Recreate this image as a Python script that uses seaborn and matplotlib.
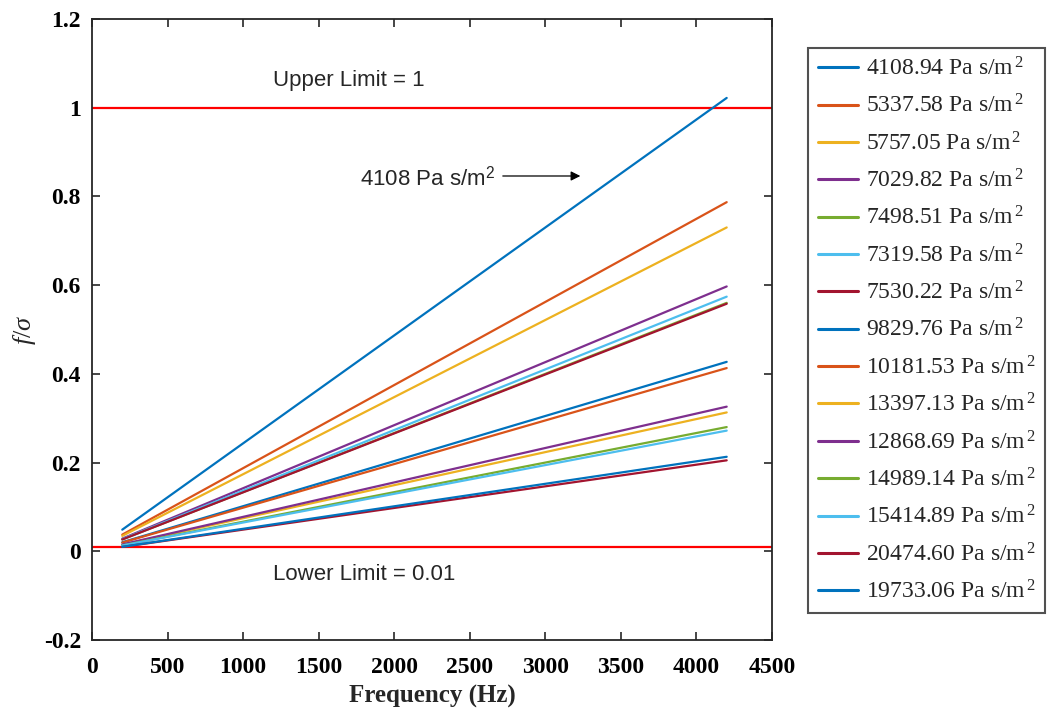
import pandas as pd
import matplotlib
matplotlib.use("Agg")
import matplotlib.pyplot as plt
import seaborn as sns
from matplotlib.ticker import FuncFormatter

# Datos: extremos de cada recta (f = 200 Hz y f = 4200 Hz)
frecuencias = [200, 4200]
resistividades = ["4108.94", "5337.58", "5757.05", "7029.82", "7498.51",
                  "7319.58", "7530.22", "9829.76", "10181.53", "13397.13",
                  "12868.69", "14989.14", "15414.89", "20474.60", "19733.06"]
y_inicio = [0.0487, 0.0375, 0.0347, 0.0285, 0.0267, 0.0273, 0.0266, 0.0203,
            0.0196, 0.0149, 0.0155, 0.0133, 0.0130, 0.0098, 0.0101]
y_final = [1.022, 0.787, 0.730, 0.597, 0.560, 0.574, 0.558, 0.427,
           0.413, 0.313, 0.326, 0.280, 0.272, 0.205, 0.213]
limite_superior = 1
limite_inferior = 0.01

sns.set_style("white")
plt.rcParams['font.family'] = ['Liberation Serif', 'DejaVu Serif']
plt.rcParams['mathtext.fontset'] = 'custom'
plt.rcParams['mathtext.rm'] = 'Liberation Serif'
plt.rcParams['mathtext.it'] = 'Liberation Serif:italic'
plt.rcParams['mathtext.sf'] = 'Liberation Sans'

colores_matlab = ["#0072BD", "#D95319", "#EDB120", "#7E2F8E", "#77AC30", "#4DBEEE", "#A2142F"]

etiquetas = [f"{r} Pa s/m$^{{\\,2}}$" for r in resistividades]
filas = []
for etq, y0, y1 in zip(etiquetas, y_inicio, y_final):
    filas.append({"Frecuencia": frecuencias[0], "ratio": y0, "serie": etq})
    filas.append({"Frecuencia": frecuencias[1], "ratio": y1, "serie": etq})
df = pd.DataFrame(filas)

paleta = [colores_matlab[i % 7] for i in range(len(etiquetas))]

fig = plt.figure(figsize=(10.58, 7.13), dpi=100)
ax = fig.add_axes([0.087, 0.1024, 0.6427, 0.871])

sns.lineplot(data=df, x="Frecuencia", y="ratio", hue="serie", hue_order=etiquetas,
             palette=paleta, linewidth=1.6, ax=ax, sort=False, estimator=None)

ax.axhline(limite_superior, color="#FF0000", linewidth=1.6, zorder=1)
ax.axhline(limite_inferior, color="#FF0000", linewidth=1.6, zorder=1)

ax.text(1200, 1.062, f"Upper Limit = {limite_superior}", family="Liberation Sans",
        fontsize=16, va="center", ha="left")
ax.text(1200, -0.053, f"Lower Limit = {limite_inferior}", family="Liberation Sans",
        fontsize=16, va="center", ha="left")
ax.annotate("", xy=(3250, 0.846), xytext=(2700, 0.846),
            arrowprops=dict(arrowstyle="-|>", color="black", lw=0.9, mutation_scale=14))
ax.text(1770, 0.84, "4108 Pa s/m$^{\\mathsf{2}}$", family="Liberation Sans",
        fontsize=16, va="center", ha="left")

ax.set_xlim(0, 4500)
ax.set_ylim(-0.2, 1.2)
ax.set_xticks(range(0, 4501, 500))
ax.set_yticks([-0.2, 0, 0.2, 0.4, 0.6, 0.8, 1, 1.2])
ax.yaxis.set_major_formatter(FuncFormatter(lambda v, p: f"{v:g}"))
ax.tick_params(direction="in", length=6, width=1.2, top=True, right=True,
               bottom=True, left=True, labelsize=17, colors="#262626", pad=8)
ax.tick_params(axis="x", pad=12)
for lab in ax.get_xticklabels() + ax.get_yticklabels():
    lab.set_fontweight("bold")
    lab.set_color("black")
for s in ax.spines.values():
    s.set_linewidth(1.3)
    s.set_color("#262626")

ax.set_xlabel("Frequency (Hz)", fontsize=18, fontweight="bold", labelpad=5)
ax.set_ylabel(r"$f/\sigma$", fontsize=19, labelpad=4)

ax.legend_.remove()
handles, labels = ax.get_legend_handles_labels()
leg = fig.legend(handles, labels, loc="upper left", bbox_to_anchor=(0.764, 0.933),
                 fontsize=17, frameon=True, fancybox=False, edgecolor="#262626",
                 handlelength=1.7, labelspacing=0.6, borderpad=0.4, handletextpad=0.35,
                 borderaxespad=0)
leg.get_frame().set_linewidth(1.5)
for ln in leg.get_lines():
    ln.set_linewidth(2.2)

fig.savefig("out.png", dpi=100)
